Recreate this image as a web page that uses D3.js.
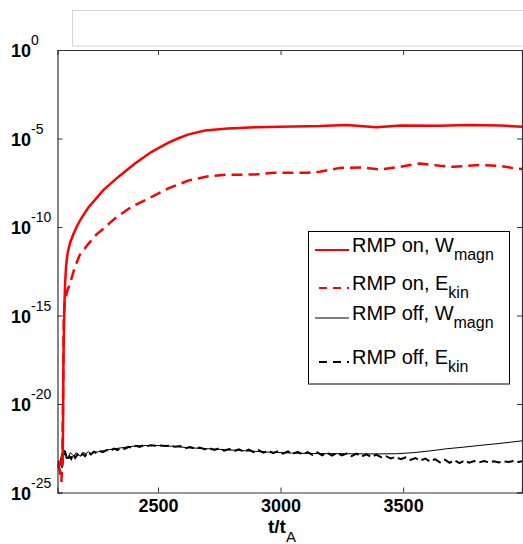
<!DOCTYPE html>
<html><head><meta charset="utf-8">
<script src="https://cdn.jsdelivr.net/npm/d3@7"></script>
<style>body{margin:0;background:#fff;} svg{display:block;} text{font-family:"Liberation Sans",Arial,Helvetica,sans-serif;}</style>
</head><body>
<svg id="c" width="523" height="544"></svg>
<script>
// ---- data (t/t_A, log10 of energy) ----
const xTicks = [2500, 3000, 3500];
const yTickExps = [0, -5, -10, -15, -20, -25];
const legendLabels = [["RMP on, W","magn"],["RMP on, E","kin"],["RMP off, W","magn"],["RMP off, E","kin"]];

const onMagnT = [2091,2094,2097,2100,2104,2108,2111,2112.5,2114,2116,2118,2121,2125,2131,2141,2155,2168,2185,2216,2277,2338,2406,2474,2541,2581,2622,2692,2785,2895,3000,3160,3269,3392,3489,3650,3759,3897,3985];
const onMagnV = [-23.2,-23.6,-23.2,-23.5,-23.3,-23.5,-23.3,-21.5,-18.0,-16.0,-14.5,-13.2,-12.2,-11.5,-10.9,-10.4,-10.0,-9.55,-8.9,-7.92,-7.17,-6.41,-5.75,-5.25,-5.0,-4.78,-4.55,-4.43,-4.36,-4.33,-4.30,-4.24,-4.37,-4.26,-4.28,-4.24,-4.26,-4.34];

const onKinT = [2092,2100,2106,2110,2113,2116,2120,2130,2141,2160,2180,2216,2250,2270,2324,2392,2474,2542,2623,2705,2780,2834,2895,2970,3106,3160,3242,3336,3405,3487,3568,3650,3703,3813,3894,3963,3985];
const onKinV = [-23.4,-23.8,-24.4,-23.0,-19.0,-15.0,-14.2,-13.6,-13.2,-12.3,-11.6,-10.95,-10.4,-10.18,-9.52,-8.86,-8.30,-7.82,-7.38,-7.13,-7.05,-7.05,-7.03,-6.94,-6.94,-6.88,-6.66,-6.64,-6.75,-6.60,-6.41,-6.54,-6.60,-6.50,-6.54,-6.71,-6.72];

const offMagnT = [2092,2100,2107,2112,2118,2126,2134,2142,2150,2158,2166,2176,2186,2196,2206,2216,2228,2240,2252,2264,2280,2300,2320,2352,2390,2419,2474,2528,2580,2623,2680,2732,2780,2827,2890,2950,3045,3150,3269,3380,3473,3541,3610,3677,3745,3813,3900,3985];
const offMagnV = [-23.4,-23.3,-22.8,-23.0,-22.6,-22.95,-23.1,-22.75,-22.85,-22.95,-22.75,-22.9,-22.95,-22.75,-22.8,-22.7,-22.82,-22.68,-22.72,-22.66,-22.64,-22.58,-22.54,-22.47,-22.4,-22.36,-22.34,-22.36,-22.41,-22.47,-22.51,-22.55,-22.59,-22.62,-22.67,-22.72,-22.77,-22.8,-22.81,-22.82,-22.81,-22.75,-22.65,-22.53,-22.44,-22.34,-22.22,-22.08];

const offKinT = [2092,2098,2104,2110,2116,2122,2130,2138,2146,2154,2162,2172,2182,2192,2202,2214,2226,2238,2250,2262,2275,2290,2305,2320,2335,2350,2365,2380,2395,2410,2425,2440,2455,2470,2490,2510,2530,2550,2570,2590,2610,2630,2650,2670,2690,2710,2730,2750,2770,2790,2810,2830,2850,2870,2890,2910,2930,2950,2970,2990,3010,3030,3050,3070,3090,3110,3130,3150,3170,3190,3210,3230,3250,3270,3290,3310,3330,3350,3370,3390,3410,3430,3450,3470,3490,3510,3530,3550,3570,3590,3610,3630,3650,3670,3690,3710,3730,3750,3770,3790,3810,3830,3850,3870,3890,3910,3930,3950,3970,3985];
const offKinV = [-23.5,-23.7,-23.9,-23.4,-22.9,-22.75,-23.2,-22.95,-23.1,-22.8,-23.05,-22.85,-23.0,-22.8,-22.95,-22.72,-22.85,-22.7,-22.78,-22.66,-22.72,-22.6,-22.66,-22.52,-22.6,-22.46,-22.54,-22.42,-22.48,-22.36,-22.42,-22.34,-22.38,-22.33,-22.36,-22.34,-22.37,-22.35,-22.42,-22.38,-22.5,-22.43,-22.52,-22.46,-22.56,-22.5,-22.6,-22.5,-22.64,-22.55,-22.66,-22.56,-22.7,-22.58,-22.72,-22.6,-22.75,-22.64,-22.78,-22.66,-22.8,-22.68,-22.82,-22.7,-22.85,-22.72,-22.88,-22.74,-22.9,-22.75,-22.92,-22.76,-22.9,-22.8,-22.95,-22.8,-22.97,-22.84,-22.99,-22.86,-23.0,-22.95,-23.08,-22.98,-23.12,-23.02,-23.16,-23.05,-23.2,-23.08,-23.25,-23.12,-23.3,-23.15,-23.32,-23.18,-23.34,-23.2,-23.32,-23.22,-23.3,-23.22,-23.3,-23.24,-23.3,-23.24,-23.28,-23.22,-23.27,-23.24];

// ---- layout ----
const L = 57.5, R = 522, T = 50, B = 492.5;
const svg = d3.select("#c");
const x = d3.scaleLinear().domain([2090, 3985]).range([L, R]);
const y = d3.scaleLog().domain([1e-25, 1]).range([B, T]);

// top gray box
svg.append("rect").attr("x",72.5).attr("y",10.5).attr("width",470).attr("height",35.5)
  .attr("fill","#fff").attr("stroke","#d4d4d4").attr("stroke-width",1);

svg.append("defs").append("clipPath").attr("id","clip")
  .append("rect").attr("x",L).attr("y",T).attr("width",R-L).attr("height",B-T);

const line = d3.line().x(d=>x(d[0])).y(d=>y(Math.pow(10,d[1])));
const zip = (a,b)=>a.map((t,i)=>[t,b[i]]);
const g = svg.append("g").attr("clip-path","url(#clip)");
g.append("path").datum(zip(offMagnT,offMagnV)).attr("d",line).attr("fill","none").attr("stroke","#000").attr("stroke-width",1);
g.append("path").datum(zip(offKinT,offKinV)).attr("d",line).attr("fill","none").attr("stroke","#000").attr("stroke-width",2).attr("stroke-dasharray","9,4");
g.append("path").datum(zip(onKinT,onKinV)).attr("d",line).attr("fill","none").attr("stroke","#ff0000").attr("stroke-width",2.5).attr("stroke-dasharray","11,6");
g.append("path").datum(zip(onMagnT,onMagnV)).attr("d",line).attr("fill","none").attr("stroke","#ff0000").attr("stroke-width",2.5);

// axes
const ax = "#333";
const xb = svg.append("g").attr("transform",`translate(0,${B})`)
  .call(d3.axisBottom(x).tickValues(xTicks).tickSize(-5).tickFormat(d3.format("d")).tickPadding(7));
const xt = svg.append("g").attr("transform",`translate(0,${T})`)
  .call(d3.axisTop(x).tickValues(xTicks).tickSize(-5).tickFormat(""));
const yl = svg.append("g").attr("transform",`translate(${L},0)`)
  .call(d3.axisLeft(y).tickValues(yTickExps.map(e=>Math.pow(10,e))).tickSize(-5).tickFormat(""));
const yr = svg.append("g").attr("transform",`translate(${R},0)`)
  .call(d3.axisRight(y).tickValues(yTickExps.map(e=>Math.pow(10,e))).tickSize(-5).tickFormat(""));
[xb,xt,yl,yr].forEach(a=>{a.select(".domain").attr("stroke",ax).attr("stroke-width",1.2);a.selectAll(".tick line").attr("stroke",ax);});
xb.selectAll(".tick text").attr("font-size",18).attr("font-weight","bold").attr("fill","#000")
  .attr("font-family","'Liberation Sans',Arial,sans-serif");

// y tick labels 10^e
yTickExps.forEach(e=>{
  const yy = y(Math.pow(10,e));
  const t = svg.append("text").attr("x",11).attr("y",yy+7).attr("font-size",18).attr("font-weight","bold");
  t.append("tspan").text("10");
  t.append("tspan").attr("font-size",14).attr("font-weight","normal").attr("dy",-12).text(String(e));
});

// x label
const xl = svg.append("text").attr("x",268).attr("y",533).attr("font-size",19).attr("font-weight","bold");
xl.append("tspan").text("t/t");
xl.append("tspan").attr("font-size",15).attr("font-weight","normal").attr("dy",9).text("A");

// legend
svg.append("rect").attr("x",308.5).attr("y",231.5).attr("width",201).attr("height",152.5)
  .attr("fill","#fff").attr("stroke","#000").attr("stroke-width",1);
const rows = [250, 288, 318, 362];
const styles = [{c:"#ff0000",w:2.2,d:null},{c:"#ff0000",w:2.2,d:"8,6"},{c:"#000",w:1,d:null},{c:"#000",w:2,d:"8,6"}];
rows.forEach((ry,i)=>{
  const s = styles[i];
  const x0 = s.d ? 319 : 315, x1 = 349;
  svg.append("line").attr("x1",x0).attr("x2",x1).attr("y1",ry).attr("y2",ry)
    .attr("stroke",s.c).attr("stroke-width",s.w).attr("stroke-dasharray",s.d);
  const t = svg.append("text").attr("x",352).attr("y",ry+2).attr("font-size",20);
  t.append("tspan").text(legendLabels[i][0]);
  t.append("tspan").attr("font-size",16).attr("dy",8).text(legendLabels[i][1]);
});
</script>
</body></html>
